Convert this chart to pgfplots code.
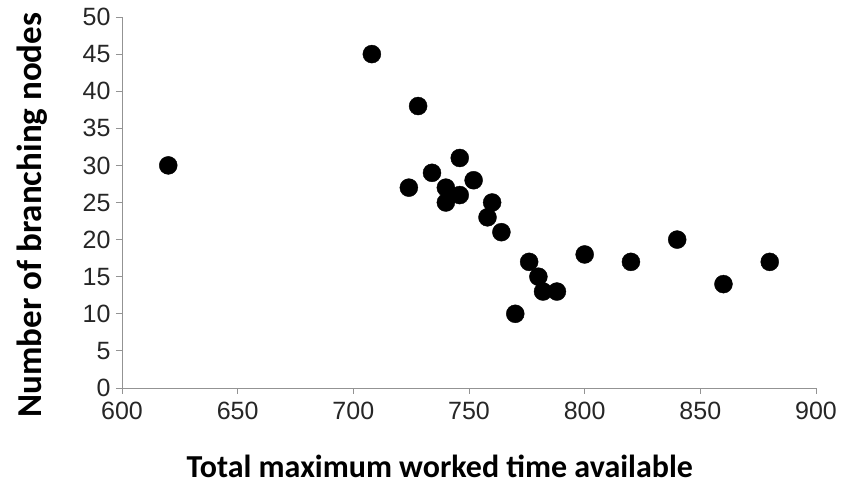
\documentclass[border=0pt]{standalone}
\usepackage{pgfplots}
\pgfplotsset{compat=1.18}
\usepackage{fontspec}
\setmainfont{Liberation Sans}
\newfontfamily\labelfont{Carlito}
\begin{document}
\begin{tikzpicture}
\begin{axis}[
  scale only axis,
  width=694pt, height=371pt,
  xmin=600, xmax=900, ymin=0, ymax=50,
  xtick={600,650,...,900}, ytick={0,5,...,50},
  axis x line*=bottom, axis y line*=left,
  axis line style={draw=gray!85, line width=0.9pt},
  tick style={draw=gray!85, line width=0.9pt},
  tick align=outside, major tick length=6pt,
  tick label style={font=\fontsize{25}{30}\selectfont, text=black!85},
  /pgf/number format/assume math mode=true,
  xticklabel style={yshift=-5pt},
  yticklabel style={xshift=-2pt},
  xlabel={\labelfont\bfseries\fontsize{32}{38}\selectfont Total maximum worked time available},
  ylabel={\labelfont\bfseries\fontsize{35}{42}\selectfont Number of branching nodes},
  xlabel style={at={(axis description cs:0.458,-0.21)}, anchor=center},
  ylabel style={at={(axis description cs:-0.1300,0.466)}, anchor=center, rotate=0},
  clip=false,
]
\addplot[only marks, mark=*, mark size=9pt, mark options={fill=black, draw=black}] coordinates {
(620,30) (708,45) (728,38) (724,27) (734,29) (740,27) (740,25) (746,31) (746,26)
(752,28) (760,25) (758,23) (764,21) (770,10) (776,17) (780,15) (782,13) (788,13)
(800,18) (820,17) (840,20) (860,14) (880,17)
};
\end{axis}
\pgfresetboundingbox
\path ([shift={(-122pt,-98pt)}]current axis.south west) rectangle ([shift={(27pt,17pt)}]current axis.north east);
\end{tikzpicture}
\end{document}
